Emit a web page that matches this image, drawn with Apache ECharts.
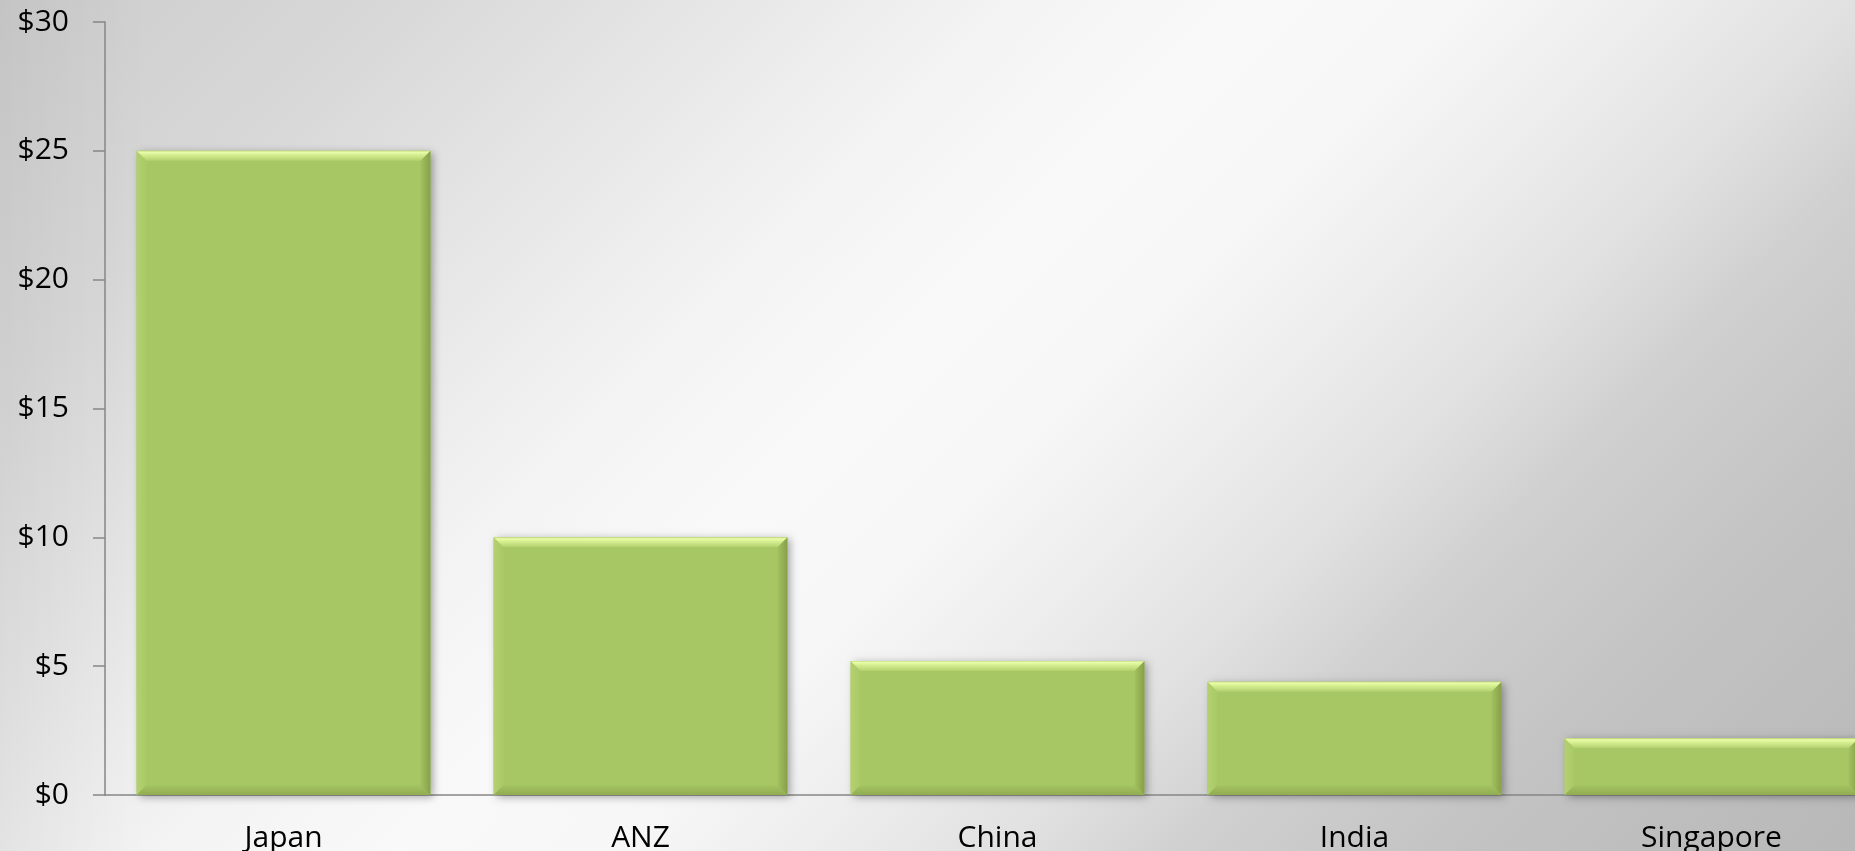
<!DOCTYPE html>
<html>
<head>
<meta charset="utf-8">
<script src="https://cdn.jsdelivr.net/npm/echarts@6/dist/echarts.min.js"></script>
<style>
  html, body { margin: 0; padding: 0; width: 1855px; height: 851px; overflow: hidden; }
  #chart {
    width: 1855px;
    height: 851px;
    background:
      linear-gradient(to right, rgba(0,0,0,0.04) 0%, rgba(0,0,0,0) 8%),
      linear-gradient(135deg,
        #cccccc 0%, #d8d8d8 14.8%, #eaeaea 29.6%, #f3f3f3 37%, #f9f9f9 46%,
        #f7f7f7 54%, #ececec 62%, #e0e0e0 69%, #d0d0d0 75%, #c3c3c3 85%, #b8b8b8 100%);
  }
</style>
</head>
<body>
<div id="chart"></div>
<script>
// Regions and their values (in $)
const categories = ['Japan', 'ANZ', 'China', 'India', 'Singapore'];
const revenue = [25, 10, 5.2, 4.4, 2.2];
// Value axis ticks
const yTicks = [0, 5, 10, 15, 20, 25, 30];

const FONT = '"Open Sans", "Noto Sans", sans-serif';
const BAR_RATIO = 0.823;   // bar width as a share of the category band
const BEVEL = 10;          // bevel depth in px

function vGrad(stops) {
  return { type: 'linear', x: 0, y: 0, x2: 0, y2: 1,
    colorStops: stops.map(s => ({ offset: s[0], color: s[1] })) };
}
function hGrad(stops) {
  return { type: 'linear', x: 0, y: 0, x2: 1, y2: 0,
    colorStops: stops.map(s => ({ offset: s[0], color: s[1] })) };
}

// Bevelled bar: a flat face plus four mitred edge strips
function renderBar(params, api) {
  const idx = api.value(0);
  const top = api.coord([idx, api.value(1)]);
  const base = api.coord([idx, 0]);
  const bw = api.size([1, 0])[0] * BAR_RATIO;
  const x0 = top[0] - bw / 2, x1 = top[0] + bw / 2;
  const y0 = top[1], y1 = base[1];
  const h = y1 - y0;
  const b = Math.min(BEVEL, h / 2, bw / 2);
  const face = '#a7c764';
  return {
    type: 'group',
    children: [
      { type: 'rect', shape: { x: x0, y: y0, width: bw, height: h },
        style: { fill: face, shadowColor: 'rgba(0,0,0,0.35)', shadowBlur: 8, shadowOffsetX: 3, shadowOffsetY: 2 } },
      { type: 'polygon', shape: { points: [[x0, y0], [x0 + b, y0 + b], [x0 + b, y1 - b], [x0, y1]] },
        style: { fill: hGrad([[0, '#b3d16f'], [1, '#a9c966']]) } },
      { type: 'polygon', shape: { points: [[x0, y1], [x1, y1], [x1 - b, y1 - b], [x0 + b, y1 - b]] },
        style: { fill: vGrad([[0, '#a5c462'], [1, '#91ac53']]) } },
      { type: 'polygon', shape: { points: [[x1, y0], [x1, y1], [x1 - b, y1 - b], [x1 - b, y0 + b]] },
        style: { fill: hGrad([[0, '#a3c261'], [1, '#86a049']]) } },
      { type: 'polygon', shape: { points: [[x0, y0], [x1, y0], [x1 - b, y0 + b], [x0 + b, y0 + b]] },
        style: { fill: vGrad([[0, '#c6e181'], [0.15, '#e9fca8'], [0.45, '#d3ed8e'], [1, '#b2d06e']]) } }
    ]
  };
}

const chart = echarts.init(document.getElementById('chart'), null, { renderer: 'canvas' });
chart.setOption({
  backgroundColor: 'transparent',
  animation: false,
  grid: { left: 105, top: 22, width: 1785, height: 773, containLabel: false, outerBoundsMode: 'none' },
  xAxis: {
    type: 'category',
    data: categories,
    axisLine: { show: true, lineStyle: { color: '#868686', width: 1.5 } },
    axisTick: { show: false },
    axisLabel: { color: '#000', fontFamily: FONT, fontSize: 30, margin: 28 },
    splitLine: { show: false }
  },
  yAxis: {
    type: 'value',
    min: yTicks[0],
    max: yTicks[yTicks.length - 1],
    interval: yTicks[1] - yTicks[0],
    axisLine: { show: true, lineStyle: { color: '#868686', width: 1.5 } },
    axisTick: { show: true, length: 12, inside: false, lineStyle: { color: '#868686', width: 1.5 } },
    axisLabel: { color: '#000', fontFamily: FONT, fontSize: 30, margin: 36, formatter: v => '$' + v },
    splitLine: { show: false }
  },
  series: [{
    type: 'custom',
    renderItem: renderBar,
    clip: false,
    data: revenue.map((v, i) => [i, v])
  }]
});
</script>
</body>
</html>
